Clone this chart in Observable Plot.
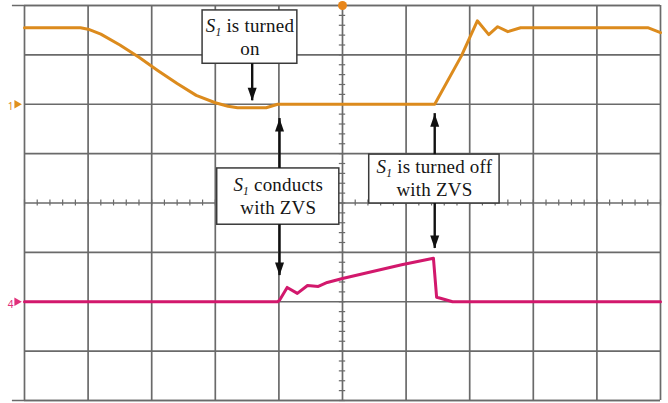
<!DOCTYPE html>
<html>
<head>
<meta charset="utf-8">
<script src="https://cdn.jsdelivr.net/npm/d3@7"></script>
<script src="https://cdn.jsdelivr.net/npm/@observablehq/plot@0.6"></script>
<style>
  html, body { margin: 0; padding: 0; background: #ffffff; }
  #chart { width: 668px; height: 403px; overflow: hidden; }
</style>
</head>
<body>
<div id="chart"></div>
<script>
// ---- Data (oscilloscope divisions: x 0..10, y -4..4) ----
const gridX = [0, 1, 2, 3, 4, 5, 6, 7, 8, 9, 10];
const gridY = [-4, -3, -2, -1, 0, 1, 2, 3, 4];

// Channel 1 (orange) : switch voltage
const ch1X = [0, 0.88, 1.0, 1.2, 1.5, 1.8, 2.1, 2.4, 2.7, 3.0, 3.2, 3.35, 3.8, 3.98, 6.45, 6.87, 7.12, 7.3, 7.44, 7.6, 7.8, 9.8, 10];
const ch1Y = [3.55, 3.55, 3.52, 3.42, 3.20, 2.95, 2.68, 2.42, 2.18, 2.03, 1.96, 1.93, 1.93, 2.0, 2.0, 2.98, 3.69, 3.41, 3.57, 3.47, 3.55, 3.55, 3.45];

// Channel 4 (magenta) : switch current
const ch4X = [0, 3.98, 4.01, 4.13, 4.29, 4.45, 4.62, 4.76, 5.0, 5.93, 6.43, 6.48, 6.54, 6.73, 10];
const ch4Y = [-2.0, -2.0, -1.97, -1.71, -1.83, -1.67, -1.69, -1.61, -1.53, -1.25, -1.12, -1.91, -1.93, -2.0, -2.0];

// Annotation boxes (division units)
const boxX1 = [2.80, 3.03, 5.42];
const boxX2 = [4.29, 4.95, 7.47];
const boxY1 = [3.90, 0.70, 0.98];
const boxY2 = [2.82, -0.44, -0.01];

// Annotation text lines
const labelText = ["S1 is turned", "on", "S1 conducts", "with ZVS", "S1 is turned off", "with ZVS"];
const labelX = [3.545, 3.545, 3.99, 3.99, 6.445, 6.445];
const labelY = [3.59, 3.13, 0.36, -0.10, 0.73, 0.26];

// Arrows: x, from, to (tip)
const arrowX = [3.58, 4.01, 4.01, 6.45, 6.45];
const arrowFrom = [2.82, 0.70, -0.44, 0.98, -0.01];
const arrowTo = [2.07, 1.71, -1.47, 1.81, -0.92];

// Channel markers
const markerY = [2, -2];
const markerLabel = ["1", "4"];
const markerColor = ["#e0901c", "#e0307a"];

// ---- Build tables ----
const ch1 = ch1X.map((x, i) => ({x, y: ch1Y[i]}));
const ch4 = ch4X.map((x, i) => ({x, y: ch4Y[i]}));
const boxes = boxX1.map((x1, i) => ({x1, x2: boxX2[i], y1: boxY1[i], y2: boxY2[i]}));
const labels = labelText.map((t, i) => ({t, x: labelX[i], y: labelY[i]}));
const arrows = arrowX.map((x, i) => ({x, y1: arrowFrom[i], y2: arrowTo[i], up: arrowTo[i] > arrowFrom[i]}));
const markers = markerY.map((y, i) => ({y, t: markerLabel[i], c: markerColor[i]}));
const minorX = d3.range(0, 10.001, 0.2).map(v => +v.toFixed(2));
const minorY = d3.range(-4, 4.001, 0.2).map(v => +v.toFixed(2));

// narrow filled arrow head, tip at origin, pointing down
const headSymbol = {
  draw(ctx) {
    ctx.moveTo(0, 0);
    ctx.lineTo(-4.5, -13);
    ctx.lineTo(4.5, -13);
    ctx.closePath();
  }
};

const gridColor = "#6a6a6a";
const svg = Plot.plot({
  width: 668,
  height: 403,
  marginLeft: 24,
  marginRight: 8,
  marginTop: 5,
  marginBottom: 3,
  x: {domain: [0, 10], axis: null},
  y: {domain: [-4, 4], axis: null},
  style: {background: "#ffffff", overflow: "visible"},
  marks: [
    Plot.ruleX(gridX, {stroke: gridColor, strokeWidth: 1.7}),
    Plot.ruleY(gridY, {stroke: gridColor, strokeWidth: 1.7}),
    Plot.ruleY([gridY[0], gridY[gridY.length - 1]], {x1: -0.19, x2: 10, stroke: gridColor, strokeWidth: 1.7}),
    Plot.ruleX(minorX, {x: d => d, y1: -0.06, y2: 0.06, stroke: gridColor, strokeWidth: 1.2}),
    Plot.ruleY(minorY, {y: d => d, x1: 4.95, x2: 5.05, stroke: gridColor, strokeWidth: 1.2}),
    Plot.line(ch1, {x: "x", y: "y", stroke: "#dc8b1d", strokeWidth: 3, curve: "linear"}),
    Plot.line(ch4, {x: "x", y: "y", stroke: "#d2186c", strokeWidth: 3, curve: "linear"}),
    Plot.rect(boxes, {x1: "x1", x2: "x2", y1: "y1", y2: "y2", fill: "#ffffff", stroke: "#3a3a3a", strokeWidth: 1.5}),
    Plot.ruleX(arrows, {x: "x", y1: "y1", y2: "y2", stroke: "#111111", strokeWidth: 2.4}),
    Plot.dot(arrows, {x: "x", y: "y2", symbol: headSymbol, fill: "#111111", stroke: null, rotate: d => d.up ? 180 : 0}),
    Plot.text(labels, {x: "x", y: "y", text: "t", fontSize: 19, fontFamily: "Liberation Serif", fill: "#151515"}),
    Plot.dot(markers, {x: -0.12, y: "y", symbol: "triangle", r: 3.2, rotate: 90, fill: "c", stroke: null}),
    Plot.text(markers, {x: -0.22, y: "y", text: "t", fill: "c", fontSize: 10, dy: 3}),
    Plot.dot([gridX[5]], {x: d => d, y: gridY[gridY.length - 1], r: 4.5, fill: "#e8861a", stroke: null})
  ]
});

// Italic S with subscript 1 on annotation labels; slight letter spacing
d3.select(svg).selectAll("text").each(function () {
  const s = this.textContent;
  if (!labelText.includes(s)) return;
  const el = d3.select(this);
  el.attr("letter-spacing", "0.2px").style("font-family", "'Liberation Serif', serif");
  if (!s.startsWith("S1")) return;
  const target = this.querySelector("tspan") ? d3.select(this.querySelector("tspan")) : el;
  target.text(null);
  target.append("tspan").attr("font-style", "italic").text("S");
  target.append("tspan").attr("font-style", "italic").attr("font-size", 11.5).attr("dy", 4).text("1");
  target.append("tspan").attr("dy", -4).text(s.slice(2));
});

document.getElementById("chart").appendChild(svg);
</script>
</body>
</html>
